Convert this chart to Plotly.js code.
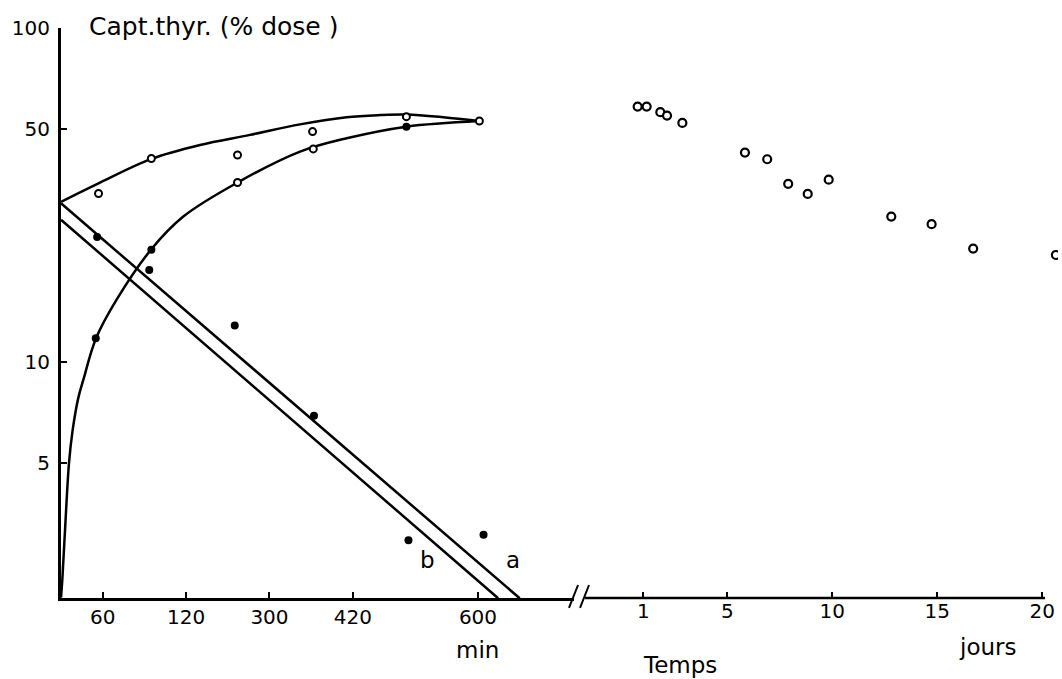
<!DOCTYPE html>
<html>
<head>
<meta charset="utf-8">
<script src="https://cdn.plot.ly/plotly-3.0.1.min.js"></script>
<style>html,body{margin:0;padding:0;background:#fff;}</style>
</head>
<body>
<div id="chart" style="width:1062px;height:679px;"></div>
<script>
// ---- tick labels (as printed on the original figure) ----
const minTickVals = [60, 180, 300, 420, 600];
const minTickText = ['60', '120', '300', '420', '600'];
const dayTickVals = [1, 5, 10, 15, 20];
const dayTickText = ['1', '5', '10', '15', '20'];
const yTickVals = [5, 10, 50, 100];
const yTickText = ['5', '10', '50', '100'];

// ---- minutes panel: measured points (% dose) ----
const openMin = [54, 130, 254, 254, 362, 363, 497, 602];
const openPct = [32.0, 40.7, 41.7, 34.5, 49.0, 43.5, 54.3, 52.7];
const filledMin = [52, 50, 130, 127, 250, 364, 497, 500, 608];
const filledPct = [23.7, 11.8, 21.7, 18.9, 12.9, 6.92, 50.7, 2.94, 3.05];

// ---- hand-drawn curves ----
const upperCurveMin = [0, 54, 130, 200, 272, 344, 411, 459, 497, 550, 602];
const upperCurvePct = [30.2, 34.3, 40.6, 44.7, 47.9, 51.5, 54.1, 54.9, 55.1, 54.1, 52.7];
const lowerCurveMin = [0, 1.9, 5.8, 11.5, 16.8, 24.9, 32.1, 50.4, 80, 130, 176, 254, 344, 411, 497, 602];
const lowerCurvePct = [1.98, 2.24, 3.15, 5.0, 6.28, 7.83, 8.86, 11.8, 15.4, 21.8, 27.3, 34.5, 42.7, 46.8, 50.7, 52.7];

// ---- straight decay lines a and b ----
const lineAMin = [0, 660];
const lineAPct = [29.9, 1.97];
const lineBMin = [0, 629];
const lineBPct = [26.7, 1.97];

// ---- days panel ----
const dayT = [0.73, 1.16, 1.81, 2.13, 2.86, 5.84, 6.9, 7.9, 8.83, 9.83, 12.81, 14.73, 16.71, 20.65];
const dayPct = [58.2, 58.2, 56.0, 54.7, 52.0, 42.4, 40.5, 34.2, 31.9, 35.2, 27.3, 25.9, 21.9, 20.95];

const FONT = 'DejaVu Sans, sans-serif';
const lineStyle = {color: '#000', width: 2.5};

const traces = [
  {x: upperCurveMin, y: upperCurvePct, mode: 'lines', line: Object.assign({shape: 'spline', smoothing: 1}, lineStyle), xaxis: 'x', yaxis: 'y'},
  {x: lowerCurveMin, y: lowerCurvePct, mode: 'lines', line: Object.assign({shape: 'spline', smoothing: 1}, lineStyle), xaxis: 'x', yaxis: 'y'},
  {x: lineAMin, y: lineAPct, mode: 'lines', line: lineStyle, xaxis: 'x', yaxis: 'y'},
  {x: lineBMin, y: lineBPct, mode: 'lines', line: lineStyle, xaxis: 'x', yaxis: 'y'},
  {x: openMin, y: openPct, mode: 'markers', marker: {symbol: 'circle', size: 7, color: '#fff', line: {color: '#000', width: 2}}, xaxis: 'x', yaxis: 'y'},
  {x: filledMin, y: filledPct, mode: 'markers', marker: {symbol: 'circle', size: 8, color: '#000'}, xaxis: 'x', yaxis: 'y'},
  {x: dayT, y: dayPct, mode: 'markers', marker: {symbol: 'circle', size: 8, color: '#fff', line: {color: '#000', width: 2.2}}, xaxis: 'x2', yaxis: 'y'}
];

const tickFont = {family: FONT, size: 20, color: '#000'};
const wordFont = {family: FONT, size: 23, color: '#000'};

const layout = {
  width: 1062, height: 679,
  margin: {l: 61, r: 4, t: 28, b: 81, pad: 0},
  paper_bgcolor: '#fff', plot_bgcolor: '#fff',
  showlegend: false,
  font: {family: FONT, color: '#000'},
  xaxis: {
    domain: [0, 0.5145], range: [0, 738.1],
    tickvals: minTickVals, ticktext: minTickText,
    ticks: 'inside', ticklen: 6, tickwidth: 2, tickcolor: '#000',
    showline: true, linecolor: '#000', linewidth: 2.5,
    showgrid: false, zeroline: false, tickfont: tickFont, ticklabelstandoff: -1,
    anchor: 'y'
  },
  xaxis2: {
    domain: [0.5256, 1], range: [-1.776, 20.75],
    tickvals: dayTickVals, ticktext: dayTickText,
    ticks: 'inside', ticklen: 6, tickwidth: 2, tickcolor: '#000',
    showline: false,
    showgrid: false, zeroline: false, tickfont: tickFont, ticklabelstandoff: -1,
    anchor: 'y'
  },
  yaxis: {
    type: 'log', range: [Math.log10(1.974), 2],
    tickvals: yTickVals, ticktext: yTickText,
    ticks: 'inside', ticklen: 6, tickwidth: 2, tickcolor: '#000',
    showline: true, linecolor: '#000', linewidth: 3,
    showgrid: false, zeroline: false, tickfont: tickFont, ticklabelstandoff: 4
  },
  shapes: [
    // right-hand segment of the broken time axis
    {type: 'line', xref: 'paper', yref: 'paper', x0: 0.5256, y0: 0, x1: 0.9870, y1: 0, line: {color: '#000', width: 2.5}},
    // axis break marks "//"
    {type: 'line', xref: 'paper', yref: 'paper', x0: 0.5095, y0: -0.0175, x1: 0.5186, y1: 0.0228, line: {color: '#000', width: 2}},
    {type: 'line', xref: 'paper', yref: 'paper', x0: 0.5206, y0: -0.0175, x1: 0.5296, y1: 0.0228, line: {color: '#000', width: 2}}
  ],
  annotations: [
    {text: 'Capt.thyr. (% dose )', xref: 'paper', yref: 'paper', x: 0.0261, y: 1.0018, xanchor: 'left', yanchor: 'middle', showarrow: false, font: {family: FONT, size: 25, color: '#000'}},
    {text: 'b', xref: 'x', yref: 'paper', x: 527, y: 0.0667, xanchor: 'center', yanchor: 'middle', showarrow: false, font: wordFont},
    {text: 'a', xref: 'x', yref: 'paper', x: 650, y: 0.0667, xanchor: 'center', yanchor: 'middle', showarrow: false, font: wordFont},
    {text: 'min', xref: 'x', yref: 'paper', x: 600, y: -0.0912, xanchor: 'center', yanchor: 'middle', showarrow: false, font: wordFont},
    {text: 'Temps', xref: 'paper', yref: 'paper', x: 0.6209, y: -0.1175, xanchor: 'center', yanchor: 'middle', showarrow: false, font: wordFont},
    {text: 'jours', xref: 'paper', yref: 'paper', x: 0.9288, y: -0.086, xanchor: 'center', yanchor: 'middle', showarrow: false, font: wordFont}
  ]
};

Plotly.newPlot('chart', traces, layout, {displayModeBar: false, staticPlot: true});
</script>
</body>
</html>
